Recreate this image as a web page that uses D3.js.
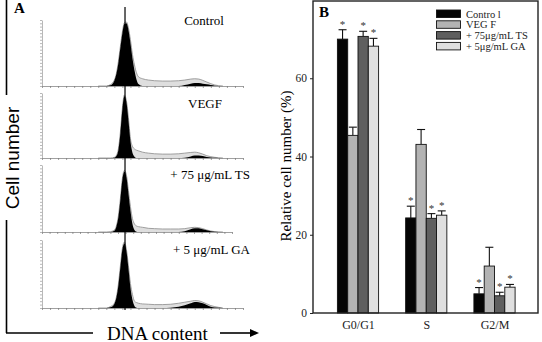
<!DOCTYPE html>
<html>
<head>
<meta charset="utf-8">
<script src="https://cdn.jsdelivr.net/npm/d3@7"></script>
<style>
  body { margin: 0; background: #fff; }
  svg { display: block; }
</style>
</head>
<body>
<div id="chart"></div>
<script>
// ---- panel A: DNA histograms (heights in % of panel height) ----
const histChannel = [28, 32, 34, 36, 37, 38, 39, 40, 41, 42, 43, 44, 45, 46, 47, 48, 50, 53, 56, 60, 64, 68, 71, 74, 76, 78, 80, 82, 84, 86, 90];
const histLabels = ["Control", "VEGF", "+ 75 \u03bcg/mL TS", "+ 5 \u03bcg/mL GA"];

const controlG1    = [0,0,1,8,18,35,58,80,94,95,85,65,42,24,10,3,0,0,0,0,0,0,0,0,0,0,0,0,0,0,0];
const controlTotal = [0,0,2,9,19,37,60,82,96,97,88,70,48,32,20,14,11,9,8,7.5,7.5,8,9,10.5,11,10.5,8.5,6,3.5,1.5,0];
const controlG2    = [0,0,0,0,0,0,0,0,0,0,0,0,0,0,0,0,0,0,0,0,0,0,1.5,3.5,4.5,4.5,3.5,2.5,1.5,0.5,0];

const vegfG1    = [0,0,0,0.5,3,12,38,75,95,86,58,26,8,2,0,0,0,0,0,0,0,0,0,0,0,0,0,0,0,0,0];
const vegfTotal = [0,0,0,1,4,14,40,77,97,88,62,30,18,14,12,11,9,7.5,6.5,6,6,6.5,7.5,8.5,9,8,6,3.5,2,1,0];
const vegfG2    = [0,0,0,0,0,0,0,0,0,0,0,0,0,0,0,0,0,0,0,0,0,0,0.5,2.5,4,4,3,1.5,0.8,0.3,0];

const tsG1    = [0,0,0,2,8,22,48,78,90,82,58,32,12,3,0.5,0,0,0,0,0,0,0,0,0,0,0,0,0,0,0,0];
const tsTotal = [0,0,0.5,3,9,24,50,80,92,85,62,38,20,12,9,8,7,5.5,5,4.5,4.5,4.5,5,6.5,7,6.5,5,3,1.5,0.5,0];
const tsG2    = [0,0,0,0,0,0,0,0,0,0,0,0,0,0,0,0,0,0,0,0,0,0,1,4,5.5,5.5,4,2.5,1,0.3,0];

const gaG1    = [0,0,1,6,15,33,60,86,95,84,58,30,12,3,0.5,0,0,0,0,0,0,0,0,0,0,0,0,0,0,0,0];
const gaTotal = [0,0,2,7,16,35,62,88,97,86,62,36,20,10,8,7,6,5.5,5,5,5.5,7,8.5,10,11,10.5,8.5,6,3.5,2,0];
const gaG2    = [0,0,0,0,0,0,0,0,0,0,0,0,0,0,0,0,0,0,0,0,0.5,2,4,7,9,8.5,7,4.5,2,0.8,0];

const g1Marker = 41.3;

// ---- panel B: relative cell number (%) ----
const phases = ["G0/G1", "S", "G2/M"];
const treatments = ["Contro l", "VEG F", "+ 75\u03bcg/mL TS", "+ 5\u03bcg/mL GA"];
const controlPct = [70.0, 24.3, 4.9];
const vegfPct    = [45.4, 43.1, 12.0];
const tsPct      = [70.7, 24.2, 4.4];
const gaPct      = [68.2, 25.0, 6.6];
const controlErr = [2.4, 3.0, 1.6];
const vegfErr    = [2.1, 3.8, 4.8];
const tsErr      = [1.3, 1.2, 0.9];
const gaErr      = [2.0, 1.1, 0.7];
const significant = [true, false, true, true];
const yTicks = [0, 20, 40, 60];

const W = 542, H = 342;
const serif = "'Liberation Serif', 'Times New Roman', serif";
const sans = "'Liberation Sans', Arial, sans-serif";

const svg = d3.select("#chart").append("svg")
    .attr("width", W).attr("height", H);

// ================= panel A =================
const panelsA = [
  {label: histLabels[0], g1: controlG1, total: controlTotal, g2: controlG2, top: 20,  base: 86,  right: 243, lx: 204, ly: 25,  anchor: "middle"},
  {label: histLabels[1], g1: vegfG1,    total: vegfTotal,    g2: vegfG2,    top: 93,  base: 158, right: 243, lx: 205, ly: 108, anchor: "middle"},
  {label: histLabels[2], g1: tsG1,      total: tsTotal,      g2: tsG2,      top: 165, base: 232, right: 232, lx: 250, ly: 179, anchor: "end"},
  {label: histLabels[3], g1: gaG1,      total: gaTotal,      g2: gaG2,      top: 240, base: 308, right: 243, lx: 250, ly: 254, anchor: "end"}
];

const xDna = d3.scaleLinear().domain([0, 100]).range([42, 243]);

panelsA.forEach(p => {
  const y = d3.scaleLinear().domain([0, 100]).range([p.base, p.top]);
  const g = svg.append("g");

  const pts = arr => histChannel.map((c, i) => [c, arr[i]]);
  const area = d3.area()
      .x(d => xDna(d[0])).y0(y(0)).y1(d => y(d[1]))
      .curve(d3.curveMonotoneX);
  const line = d3.line()
      .x(d => xDna(d[0])).y(d => y(d[1]))
      .curve(d3.curveMonotoneX);

  g.append("path").attr("d", area(pts(p.total)))
      .attr("fill", "#dedede");
  g.append("path").attr("d", line(pts(p.total)))
      .attr("fill", "none").attr("stroke", "#8a8a8a").attr("stroke-width", 0.8);
  g.append("path").attr("d", area(pts(p.g1))).attr("fill", "#000");
  g.append("path").attr("d", area(pts(p.g2))).attr("fill", "#000");

  // axes
  const xAx = d3.axisBottom(d3.scaleLinear().domain([0, 100]).range([42, p.right]))
      .tickValues(d3.range(0, 101, 4)).tickSizeInner(2).tickSizeOuter(0).tickFormat("");
  g.append("g").attr("transform", `translate(0,${p.base})`).call(xAx)
      .call(s => s.selectAll("line,path").attr("stroke", "#777").attr("stroke-width", 0.7));
  const yAx = d3.axisLeft(y).tickValues(d3.range(0, 101, 5))
      .tickSizeInner(2).tickSizeOuter(0).tickFormat("");
  g.append("g").attr("transform", `translate(42,0)`).call(yAx)
      .call(s => s.selectAll("line,path").attr("stroke", "#888").attr("stroke-width", 0.6));

  g.append("text").attr("x", p.lx).attr("y", p.ly)
      .attr("text-anchor", p.anchor)
      .attr("font-family", serif).attr("font-size", 13)
      .text(p.label);
});

// G1 marker line through all histograms
svg.append("line")
    .attr("x1", xDna(g1Marker)).attr("x2", xDna(g1Marker))
    .attr("y1", 7).attr("y2", 310)
    .attr("stroke", "#000").attr("stroke-width", 1.2);

// outer L axes of panel A
svg.append("line").attr("x1", 6.5).attr("x2", 6.5).attr("y1", 0).attr("y2", 95)
    .attr("stroke", "#000").attr("stroke-width", 1.6);
svg.append("line").attr("x1", 6.5).attr("x2", 6.5).attr("y1", 220).attr("y2", 333)
    .attr("stroke", "#000").attr("stroke-width", 1.6);
svg.append("line").attr("x1", 6).attr("x2", 93).attr("y1", 333).attr("y2", 333)
    .attr("stroke", "#000").attr("stroke-width", 1.6);
svg.append("line").attr("x1", 220).attr("x2", 251).attr("y1", 333).attr("y2", 333)
    .attr("stroke", "#000").attr("stroke-width", 1.6);
svg.append("path").attr("d", "M250,329 L259,333 L250,337 Z").attr("fill", "#000");

svg.append("text")
    .attr("transform", "translate(19,158) rotate(-90)")
    .attr("text-anchor", "middle")
    .attr("font-family", sans).attr("font-size", 19)
    .text("Cell number");
svg.append("text").attr("x", 107).attr("y", 339.5)
    .attr("font-family", serif).attr("font-size", 19)
    .text("DNA content");
svg.append("text").attr("x", 14).attr("y", 13)
    .attr("font-family", serif).attr("font-size", 15).attr("font-weight", "bold")
    .text("A");

// ================= panel B =================
const frame = {left: 313, right: 538, top: 1, bottom: 313};
const yB = d3.scaleLinear().domain([0, 80]).range([frame.bottom, 0]);
const xPhase = d3.scalePoint().domain(phases).range([358, 494.5]);
const xTreat = d3.scaleBand().domain(treatments).range([-20.6, 20.6]).padding(0);
const fills = ["#050505", "#b3b3b3", "#5f5f5f", "#dfdfdf"];
const pctSeries = [controlPct, vegfPct, tsPct, gaPct];
const errSeries = [controlErr, vegfErr, tsErr, gaErr];

const gB = svg.append("g");

const barData = [];
treatments.forEach((t, ti) => {
  phases.forEach((ph, pi) => {
    barData.push({t, ti, ph, v: pctSeries[ti][pi], e: errSeries[ti][pi]});
  });
});

// error bars (upward)
gB.selectAll("g.err").data(barData).join("g").attr("class", "err")
  .each(function(d) {
    const cx = xPhase(d.ph) + xTreat(d.t) + xTreat.bandwidth() / 2;
    const g = d3.select(this);
    g.append("line").attr("x1", cx).attr("x2", cx)
      .attr("y1", yB(d.v)).attr("y2", yB(d.v + d.e))
      .attr("stroke", "#111").attr("stroke-width", 1.1);
    g.append("line").attr("x1", cx - 4).attr("x2", cx + 4)
      .attr("y1", yB(d.v + d.e)).attr("y2", yB(d.v + d.e))
      .attr("stroke", "#111").attr("stroke-width", 1.1);
    if (significant[d.ti]) {
      g.append("text").attr("x", cx).attr("y", yB(d.v + d.e) - 2)
        .attr("text-anchor", "middle")
        .attr("font-family", serif).attr("font-size", 11).attr("fill", "#333")
        .text("*");
    }
  });

gB.selectAll("rect.bar").data(barData).join("rect").attr("class", "bar")
    .attr("x", d => xPhase(d.ph) + xTreat(d.t))
    .attr("width", xTreat.bandwidth())
    .attr("y", d => yB(d.v))
    .attr("height", d => yB(0) - yB(d.v))
    .attr("fill", d => fills[d.ti])
    .attr("stroke", "#111").attr("stroke-width", 0.9);

// frame
gB.append("rect")
    .attr("x", frame.left).attr("y", frame.top)
    .attr("width", frame.right - frame.left).attr("height", frame.bottom - frame.top)
    .attr("fill", "none").attr("stroke", "#222").attr("stroke-width", 1.4);

// y axis
const yAxB = d3.axisLeft(yB).tickValues(yTicks).tickSizeInner(3).tickSizeOuter(0).tickPadding(3);
gB.append("g").attr("transform", `translate(${frame.left},0)`).call(yAxB)
  .call(s => s.select(".domain").remove())
  .call(s => s.selectAll("line").attr("stroke", "#222"))
  .call(s => s.selectAll("text").attr("font-family", serif).attr("font-size", 11.5).attr("fill", "#222"));

// x labels
const xAxB = d3.axisBottom(xPhase).tickSize(0).tickPadding(7);
gB.append("g").attr("transform", `translate(0,${frame.bottom})`).call(xAxB)
  .call(s => s.select(".domain").remove())
  .call(s => s.selectAll("text").attr("font-family", serif).attr("font-size", 12).attr("fill", "#222"));

gB.append("text")
    .attr("transform", "translate(291,166) rotate(-90)")
    .attr("text-anchor", "middle")
    .attr("font-family", serif).attr("font-size", 15)
    .text("Relative cell number (%)");

gB.append("text").attr("x", 319).attr("y", 17)
    .attr("font-family", serif).attr("font-size", 15).attr("font-weight", "bold")
    .text("B");

// legend
const legend = gB.append("g");
treatments.forEach((t, i) => {
  const yy = 10 + i * 10.8;
  legend.append("rect").attr("x", 436.5).attr("y", yy)
    .attr("width", 24).attr("height", 7.5)
    .attr("fill", fills[i]).attr("stroke", "#111").attr("stroke-width", 0.9);
  legend.append("text").attr("x", 466).attr("y", yy + 7.5)
    .attr("font-family", serif).attr("font-size", 10.5).attr("fill", "#222")
    .text(t);
});
</script>
</body>
</html>
